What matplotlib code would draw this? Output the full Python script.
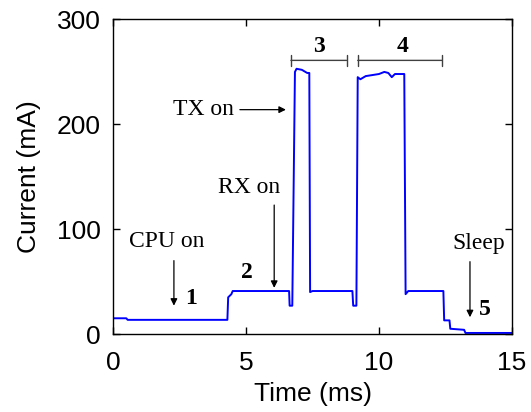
import matplotlib
matplotlib.use("Agg")
import matplotlib.pyplot as plt

# Trace breakpoints (time in ms, current in mA)
time_ms = [0, 0.5, 0.55, 4.30, 4.33, 4.45, 4.5, 6.62, 6.64, 6.74, 6.84, 6.9, 7.1, 7.3, 7.38,
           7.41, 7.5, 9.0, 9.03, 9.15, 9.2, 9.3, 9.5, 10.0, 10.2, 10.35, 10.48, 10.6, 10.95,
           11.0, 11.1, 12.42, 12.45, 12.65, 12.68, 13.2, 13.25, 15.0]
current_ma = [15, 15, 13.5, 13.5, 35, 38, 41, 41, 27, 27, 250, 253, 252, 249, 249,
              40, 41, 41, 27, 27, 245, 243, 246, 248, 250, 249, 245, 248, 248,
              38, 41, 41, 13, 13, 5, 4, 1, 1]

x_ticks = [0, 5, 10, 15]
y_ticks = [0, 100, 200, 300]

fig = plt.figure(figsize=(5.31, 4.12), dpi=100)
ax = fig.add_axes([113/531, 1-334/412, (512-113)/531, (334-19.5)/412])
ax.plot(time_ms, current_ma, color="#0000ff", lw=1.4)
ax.set_xlim(0, 15)
ax.set_ylim(0, 300)
ax.set_xticks(x_ticks)
ax.set_yticks(y_ticks)
ax.tick_params(direction="in", top=True, right=True, length=5, width=1,
               labelsize=19)
ax.tick_params(axis="x", pad=12)
ax.tick_params(axis="y", pad=9)
for lab in ax.get_xticklabels() + ax.get_yticklabels():
    lab.set_fontfamily("Liberation Sans")
for s in ax.spines.values():
    s.set_linewidth(1.0)
ax.set_xlabel("Time (ms)", fontsize=19, family="Liberation Sans", labelpad=5)
ax.set_ylabel("Current (mA)", fontsize=19, family="Liberation Sans", labelpad=11)

serif = dict(family="Liberation Serif", fontsize=17)
bold = dict(family="Liberation Serif", fontsize=17, fontweight="bold")
arrow = dict(arrowstyle="-|>", color="black", lw=0.9, mutation_scale=10, shrinkA=0, shrinkB=0)

# CPU on
ax.text(2.02, 88, "CPU on", ha="center", va="center", **serif)
ax.annotate("", xy=(2.29, 27), xytext=(2.29, 70), arrowprops=arrow)
ax.text(2.92, 34, "1", ha="center", va="center", **bold)
# RX on
ax.text(5.1, 140, "RX on", ha="center", va="center", **serif)
ax.annotate("", xy=(6.06, 44), xytext=(6.06, 123), arrowprops=arrow)
ax.text(5.03, 59, "2", ha="center", va="center", **bold)
# TX on
ax.text(4.55, 214, "TX on", ha="right", va="center", **serif)
ax.annotate("", xy=(6.5, 214), xytext=(4.77, 214), arrowprops=arrow)
# Sleep
ax.text(13.76, 86, "Sleep", ha="center", va="center", **serif)
ax.annotate("", xy=(13.42, 16), xytext=(13.42, 69), arrowprops=arrow)
ax.text(13.98, 23, "5", ha="center", va="center", **bold)

# brackets 3 and 4
br = dict(arrowstyle="|-|", color="#404040", lw=1.0, mutation_scale=4, shrinkA=0, shrinkB=0)
ax.annotate("", xy=(6.69, 261), xytext=(8.78, 261), arrowprops=br)
ax.annotate("", xy=(9.2, 261), xytext=(12.36, 261), arrowprops=br)
ax.text(7.74, 274, "3", ha="center", va="center", **bold)
ax.text(10.9, 274, "4", ha="center", va="center", **bold)

fig.savefig("out.png", dpi=100)
